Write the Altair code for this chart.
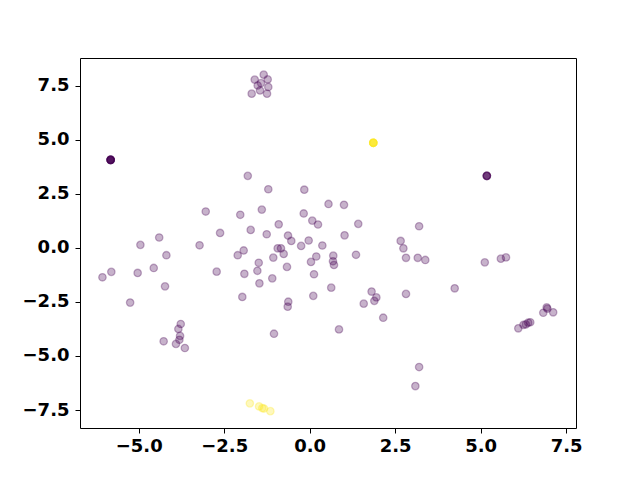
import altair as alt
import pandas as pd

# purple class (label 0)
x0 = [-1.345, -1.608, -1.228, -1.424, -1.52, -1.21, -1.453, -1.696, -1.248,
      -1.81, -1.21, -0.158, 0.55, 1.003, -3.04, -2.03, -1.40, -0.175, 0.076,
      0.243, 1.42, 3.20, -0.906, -1.725, -2.62, -1.257, -0.634, -0.538, -0.03,
      1.02, 2.66, 2.74, -4.40, -4.95, -3.22, -0.25, 0.37, -0.936, -0.84, -0.76,
      -1.064, -1.49, -1.53, -1.47, -1.094, -0.664, 0.038, 0.193, 0.126, 0.69,
      0.681, 0.71, 1.354, 2.816, 3.16, 3.38, 0.63, 1.81, 1.95, 1.89, 1.58, 2.15,
      2.816, 4.24, 5.12, 5.59, 5.74, 0.857, 3.20, 3.09, 6.10, 6.25, 6.32, 6.39,
      6.45, 6.83, 6.93, 6.95, 7.12, -0.626, -0.643, 0.105, -1.044, -4.19, -1.93,
      -2.105, -4.56, -6.06, -5.80, -5.03, -2.72, -1.91, -4.23, -5.25, -1.97,
      -3.77, -3.84, -3.79, -3.81, -3.91, -3.65, -4.27,
      -5.82, -5.82, -5.82, -5.82, -5.82, -5.82, -5.82,
      5.18, 5.18, 5.18, 5.18]
y0 = [8.01, 7.78, 7.79, 7.62, 7.51, 7.44, 7.28, 7.13, 7.13,
      3.33, 2.71, 2.69, 2.03, 1.99, 1.68, 1.53, 1.77, 1.59, 1.26,
      1.08, 1.11, 1.00, 1.09, 0.83, 0.69, 0.63, 0.57, 0.32, 0.34,
      0.58, 0.32, -0.02, 0.48, 0.14, 0.12, 0.09, 0.11, -0.02, -0.02, -0.28,
      -0.45, -0.69, -1.06, -1.64, -1.41, -0.88, -0.65, -0.40, -1.22, -0.36,
      -0.62, -0.79, -0.32, -0.46, -0.46, -0.56, -1.84, -2.02, -2.29, -2.45, -2.58, -3.23,
      -2.13, -1.87, -0.67, -0.50, -0.44, -3.77, -5.51, -6.39, -3.72, -3.56, -3.54, -3.46,
      -3.44, -3.00, -2.75, -2.81, -2.98, -2.49, -2.72, -2.22, -3.97, -0.34, -0.12,
      -0.34, -0.93, -1.36, -1.11, -1.16, -1.10, -1.20, -1.78, -2.53, -2.27,
      -3.52, -3.75, -4.07, -4.25, -4.44, -4.63, -4.32,
      4.07, 4.07, 4.07, 4.07, 4.07, 4.07, 4.07,
      3.33, 3.33, 3.33, 3.33]

# yellow class (label 1)
x1 = [-1.75, -1.48, -1.386, -1.336, -1.15,
      1.86, 1.86, 1.86, 1.86, 1.86, 1.86]
y1 = [-7.19, -7.33, -7.41, -7.43, -7.55,
      4.86, 4.86, 4.86, 4.86, 4.86, 4.86]

class_values = [0, 1]
class_colors = ["#440154", "#fde725"]
x_ticks = [-5.0, -2.5, 0.0, 2.5, 5.0, 7.5]
y_ticks = [-7.5, -5.0, -2.5, 0.0, 2.5, 5.0, 7.5]

df = pd.DataFrame({
    "x": x0 + x1,
    "y": y0 + y1,
    "label": [0] * len(x0) + [1] * len(x1),
})

axis_common = dict(
    grid=False, domain=False, tickColor="black", tickSize=5, tickWidth=1,
    labelFont="DejaVu Sans", labelFontWeight="bold", labelFontSize=18,
    labelColor="black", format=".1f", title=None, labelFlush=False,
)

chart = alt.Chart(df).mark_point(
    filled=True, shape="circle", size=55, fillOpacity=0.3, strokeOpacity=0.3,
    strokeWidth=1.3
).encode(
    x=alt.X("x:Q", scale=alt.Scale(domain=[-6.716, 7.787], nice=False, zero=False),
            axis=alt.Axis(values=x_ticks, labelPadding=4, **axis_common)),
    y=alt.Y("y:Q", scale=alt.Scale(domain=[-8.33, 8.78], nice=False, zero=False),
            axis=alt.Axis(values=y_ticks, labelPadding=6, **axis_common)),
    color=alt.Color("label:O", scale=alt.Scale(domain=class_values, range=class_colors), legend=None),
    stroke=alt.Stroke("label:O", scale=alt.Scale(domain=class_values, range=class_colors), legend=None),
).properties(
    width=496, height=370,
    autosize=alt.AutoSizeParams(type="none"),
    padding={"left": 72, "top": 50, "right": 56, "bottom": 45},
).configure_view(
    stroke="black", strokeWidth=1
)

chart.save("out.html", embed_options={"renderer": "svg", "actions": False})
